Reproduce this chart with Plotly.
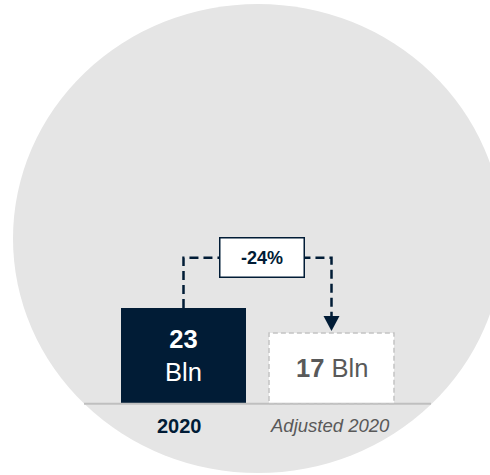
import plotly.graph_objects as go

# ---- data ----
categories = ["2020", "Adjusted 2020"]
values = [23, 17]
value_labels = ["23", "17"]
unit = "Bln"
change_label = "-24%"

# ---- styles ----
NAVY = "#011C36"
GRAY_TXT = "#595959"
CIRCLE = "#E5E5E5"
BASE = "#BFBFBF"
DASH_BORDER = "#C4C4C4"
FONT = "Liberation Sans, Arial, sans-serif"

W, H = 490, 475
px_per_unit = 4.17
zero_px = 403.8
cat_px = [183.5, 331.5]
cat_step = cat_px[1] - cat_px[0]
bar_w = 125 / cat_step
half = bar_w / 2

xr = [-cat_px[0] / cat_step, (W - cat_px[0]) / cat_step]
yr = [-(H - zero_px) / px_per_unit, zero_px / px_per_unit]

xs = list(range(len(categories)))

fig = go.Figure()
fig.add_trace(go.Bar(
    x=xs, y=values, width=bar_w,
    marker=dict(color=[NAVY, "white"], line=dict(width=0)),
    hoverinfo="skip", showlegend=False,
))

top_level = max(values) + 12
shapes = [
    dict(type="circle", xref="paper", yref="paper",
         x0=13 / W, x1=503 / W, y0=(H - 473) / H, y1=(H - 4) / H,
         fillcolor=CIRCLE, line=dict(width=0), layer="below"),
    dict(type="line", xref="x", yref="y",
         x0=xs[0] - half - 0.25, x1=xs[-1] + half + 0.25, y0=0, y1=0,
         line=dict(color=BASE, width=2), layer="above"),
    dict(type="rect", xref="x", yref="y",
         x0=xs[1] - half, x1=xs[1] + half, y0=0, y1=values[1],
         line=dict(color=DASH_BORDER, width=1.5, dash="5px,3px"), layer="above"),
    dict(type="path", xref="x", yref="y",
         path=f"M{xs[0]},{values[0]} L{xs[0]},{top_level} L{xs[1]},{top_level} L{xs[1]},{values[1] + 3}",
         line=dict(color=NAVY, width=2.5, dash="9px,5px"), layer="above"),
    dict(type="path", xref="x", yref="y", xsizemode="pixel", ysizemode="pixel",
         xanchor=xs[1], yanchor=values[1],
         path="M-8,17 L8,17 L0,2 Z",
         fillcolor=NAVY, line=dict(width=0), layer="above"),
]

annotations = [
    dict(x=xs[0], y=values[0] / 2, xref="x", yref="y", showarrow=False,
         text=f"<b>{value_labels[0]}</b><br>{unit}",
         font=dict(color="white", size=25.5, family=FONT),
         xanchor="center", yanchor="middle"),
    dict(x=xs[1], y=values[1] / 2, xref="x", yref="y", showarrow=False,
         text=f"<b>{value_labels[1]}</b> {unit}",
         font=dict(color=GRAY_TXT, size=25.5, family=FONT),
         xanchor="center", yanchor="middle"),
    dict(x=(xs[0] + xs[1]) / 2, y=top_level, xref="x", yref="y", showarrow=False,
         text=f"<b>{change_label}</b>",
         font=dict(color=NAVY, size=18, family=FONT),
         bgcolor="white", bordercolor=NAVY, borderwidth=1.5, borderpad=0,
         width=83, height=38, xshift=4.5,
         xanchor="center", yanchor="middle"),
    dict(x=xs[0], y=0, xref="x", yref="y", showarrow=False,
         text=f"<b>{categories[0]}</b>",
         font=dict(color=NAVY, size=20, family=FONT),
         xanchor="center", yanchor="middle", yshift=-22, xshift=-4),
    dict(x=xs[1], y=0, xref="x", yref="y", showarrow=False,
         text=f"<i>{categories[1]}</i>",
         font=dict(color=GRAY_TXT, size=18.5, family=FONT),
         xanchor="center", yanchor="middle", yshift=-22, xshift=-2),
]

fig.update_layout(
    width=W, height=H,
    margin=dict(l=0, r=0, t=0, b=0),
    paper_bgcolor="white", plot_bgcolor="rgba(0,0,0,0)",
    xaxis=dict(range=xr, visible=False, fixedrange=True),
    yaxis=dict(range=yr, visible=False, fixedrange=True),
    shapes=shapes, annotations=annotations,
    font=dict(family=FONT),
    bargap=0,
)

fig.write_html("out.html")
